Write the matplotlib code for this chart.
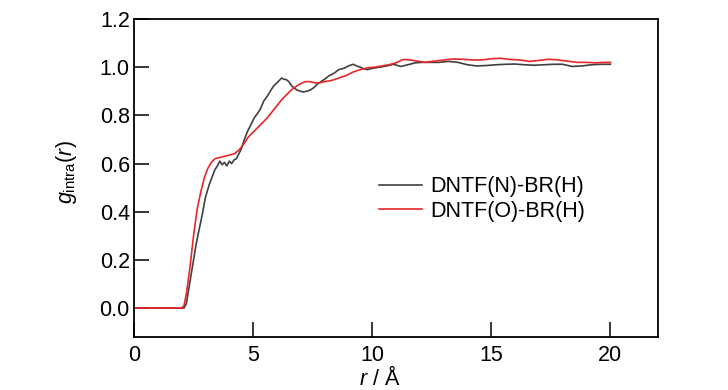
import matplotlib
matplotlib.use("Agg")
import matplotlib.pyplot as plt

# g_intra(r)
r_n = [0, 2.1, 2.2, 2.3, 2.45, 2.6, 2.7, 2.85, 3.0, 3.15, 3.3, 3.4, 3.5, 3.6, 3.7, 3.8,
       3.9, 4.0, 4.1, 4.2, 4.3, 4.4, 4.5, 4.6, 4.75, 4.9, 5.05, 5.2, 5.3, 5.45, 5.6, 5.75,
       5.85, 6.0, 6.1, 6.2, 6.3, 6.4, 6.5, 6.6, 6.7, 6.85, 7.0, 7.1, 7.25, 7.4, 7.55, 7.7,
       7.85, 8.0, 8.2, 8.4, 8.6, 8.8, 9.0, 9.2, 9.35, 9.5, 9.65, 9.8, 10.0, 10.3, 10.6,
       10.9, 11.2, 11.5, 11.8, 12.1, 12.4, 12.8, 13.2, 13.6, 14.0, 14.4, 14.8, 15.2, 15.6,
       16.0, 16.4, 16.8, 17.2, 17.6, 18.0, 18.4, 18.8, 19.2, 19.6, 20.0]
g_n = [0, 0.0, 0.02, 0.08, 0.17, 0.26, 0.31, 0.38, 0.46, 0.51, 0.55, 0.575, 0.59, 0.61,
       0.595, 0.605, 0.59, 0.61, 0.60, 0.615, 0.62, 0.64, 0.66, 0.69, 0.73, 0.76, 0.79,
       0.81, 0.825, 0.86, 0.88, 0.905, 0.92, 0.935, 0.945, 0.955, 0.95, 0.948, 0.94, 0.925,
       0.915, 0.905, 0.90, 0.897, 0.90, 0.905, 0.915, 0.93, 0.94, 0.95, 0.965, 0.975, 0.99,
       0.995, 1.005, 1.012, 1.005, 1.0, 0.993, 0.99, 0.995, 1.0, 1.005, 1.012, 1.003, 1.01,
       1.018, 1.02, 1.02, 1.02, 1.024, 1.02, 1.01, 1.005, 1.007, 1.01, 1.012, 1.013, 1.01,
       1.008, 1.01, 1.012, 1.012, 1.003, 1.005, 1.01, 1.012, 1.012]

r_o = [0, 2.0, 2.1, 2.2, 2.35, 2.5, 2.65, 2.8, 2.95, 3.1, 3.25, 3.4, 3.6, 3.8, 4.0, 4.2,
       4.4, 4.6, 4.8, 5.0, 5.2, 5.4, 5.6, 5.8, 6.0, 6.2, 6.4, 6.6, 6.8, 7.0, 7.2, 7.4, 7.6,
       7.8, 8.0, 8.3, 8.6, 8.9, 9.2, 9.5, 9.8, 10.1, 10.4, 10.7, 11.0, 11.3, 11.6, 11.9,
       12.2, 12.6, 13.0, 13.4, 13.8, 14.2, 14.6, 15.0, 15.4, 15.8, 16.2, 16.6, 17.0, 17.4,
       17.8, 18.2, 18.6, 19.0, 19.4, 19.7, 20.0]
g_o = [0, 0, 0.01, 0.06, 0.17, 0.30, 0.41, 0.48, 0.54, 0.58, 0.605, 0.62, 0.625, 0.63,
       0.635, 0.64, 0.655, 0.68, 0.71, 0.73, 0.75, 0.77, 0.79, 0.815, 0.84, 0.865, 0.885,
       0.905, 0.92, 0.932, 0.94, 0.94, 0.935, 0.935, 0.94, 0.945, 0.955, 0.965, 0.98, 0.99,
       0.997, 1.0, 1.005, 1.01, 1.018, 1.032, 1.03, 1.025, 1.02, 1.025, 1.03, 1.034, 1.033,
       1.03, 1.03, 1.035, 1.037, 1.032, 1.03, 1.024, 1.028, 1.033, 1.03, 1.025, 1.02, 1.02,
       1.018, 1.02, 1.02]

labels = ["DNTF(N)-BR(H)", "DNTF(O)-BR(H)"]
colors = ["#404040", "#e8262a"]

fam = ["Liberation Sans Narrow", "Liberation Sans", "DejaVu Sans"]
plt.rcParams["font.family"] = fam
plt.rcParams["mathtext.fontset"] = "custom"
plt.rcParams["mathtext.rm"] = "Liberation Sans"
plt.rcParams["mathtext.it"] = "Liberation Sans:italic"
fs = 15.5

fig = plt.figure(figsize=(7.28, 3.9), dpi=100)
ax = fig.add_axes([134 / 728, 1 - 337 / 390, 524 / 728, 318 / 390])

ax.plot(r_n, g_n, color=colors[0], lw=1.2, label=labels[0])
ax.plot(r_o, g_o, color=colors[1], lw=1.2, label=labels[1])

ax.set_xlim(0, 22)
ax.set_ylim(-0.12, 1.2)
ax.set_xticks([0, 5, 10, 15, 20])
ax.set_yticks([0.0, 0.2, 0.4, 0.6, 0.8, 1.0, 1.2])
ax.set_yticklabels([f"{v:.1f}" for v in [0.0, 0.2, 0.4, 0.6, 0.8, 1.0, 1.2]])
ax.tick_params(direction="in", length=11, width=1.1, labelsize=fs)
ax.tick_params(axis="x", pad=6)
ax.tick_params(axis="y", pad=3)
for s in ax.spines.values():
    s.set_linewidth(1.3)

ax.set_ylabel(r"$g_{\mathrm{intra}}(r)$", fontsize=fs)
ax.yaxis.set_label_coords(-0.105, 0.52)
ax.set_xlabel(r"$r$ / Å", fontsize=fs)
ax.xaxis.set_label_coords(0.468, -0.09)

ax.legend(loc="center left", bbox_to_anchor=(379 / 728, 1 - 199 / 390),
          bbox_transform=fig.transFigure, frameon=False, fontsize=fs,
          handlelength=2.0, handletextpad=0.4, labelspacing=0.15,
          borderpad=0, borderaxespad=0)

fig.savefig("out.png", dpi=100)
